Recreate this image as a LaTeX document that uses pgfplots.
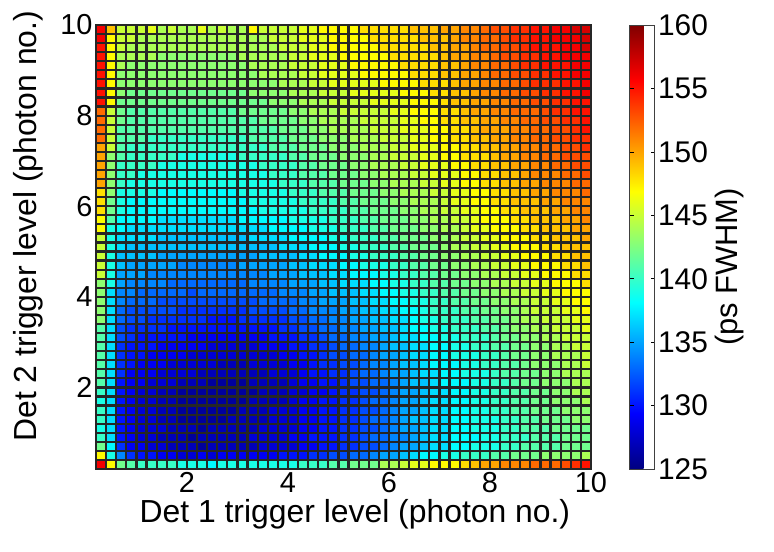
\documentclass[border=0pt]{standalone}
\usepackage{fontspec}
\setmainfont{Liberation Sans}
\usepackage{pgfplots}
\usepackage{pgfplotstable}
\pgfplotsset{compat=1.18}
\pgfdeclareplotmark{cell}{\pgfpathrectangle{\pgfpoint{-5.051bp}{-4.5305bp}}{\pgfpoint{10.102bp}{9.061bp}}\pgfusepathqfillstroke}
% rows: y = 0.3, 0.5, ..., 9.9 (bottom to top); columns: x = 0.3, 0.5, ..., 9.9
\pgfplotstableread[header=false]{
156 147 142  141 140 140 140 140  139 139 139 138 139  139 139 139 139 139  139 139 140 140 140  141 141 142 142 142  144 144 145 146 146  147 147 147 148 149  150 150 151 151 151  152 152 152 153 154  155
147 139 134  131 130 130 129 129  128 128 129 128 129  129 129 129 129 129  130 130 130 131 131  132 132 133 133 134  135 135 136 137 138  138 139 139 140 140  140 141 141 142 142  142 143 143 143 143  144
142 138 131  129 129 128 128 127  127 127 126 127 127  127 127 127 128 128  128 128 129 129 130  130 131 131 132 132  133 134 135 135 136  137 137 138 138 139  139 139 140 140 141  141 141 141 142 142  142
140 137 130  129 128 128 127 127  127 126 127 127 127  127 127 128 128 128  128 129 129 130 130  130 131 131 132 133  133 134 134 135 136  137 137 138 138 138  139 139 140 140 140  141 141 141 142 142  142
139 137 130  129 128 128 128 127  127 127 126 127 127  127 127 127 128 128  128 128 129 129 130  130 131 131 132 132  133 134 135 135 136  137 137 138 138 139  139 139 140 140 141  141 141 142 142 142  142
140 137 130  129 128 128 127 127  126 126 126 126 126  127 127 127 127 128  128 128 129 129 130  130 131 131 132 133  133 134 135 136 136  137 137 138 138 139  139 139 140 140 141  141 142 142 142 143  143
140 137 130  129 128 128 127 127  126 126 126 126 126  126 127 127 127 128  128 128 129 129 130  130 131 131 132 132  133 134 135 135 136  137 137 138 138 139  139 140 140 141 141  142 142 142 143 143  143
139 137 130  129 128 128 127 127  126 126 126 126 126  126 126 127 127 127  127 128 129 129 130  130 131 131 132 133  133 134 135 135 136  137 137 138 138 139  139 140 140 141 141  142 142 143 143 143  144
140 137 130  129 128 128 127 127  126 126 126 126 126  126 126 126 127 127  127 128 128 129 129  130 131 131 132 132  133 134 135 135 136  137 137 138 138 139  139 140 140 141 141  142 142 143 143 144  144
141 137 130  129 129 128 128 128  127 127 127 126 126  126 126 127 127 127  127 128 129 129 130  130 131 132 132 133  133 134 135 136 136  137 138 138 138 139  139 140 140 141 142  142 143 143 143 144  144
141 137 131  129 129 129 128 128  128 128 127 127 127  127 127 127 127 128  128 128 129 130 130  131 131 132 133 133  134 135 135 136 137  137 138 138 139 139  139 140 141 141 142  142 143 143 144 144  144
141 137 131  130 129 129 129 128  128 128 128 128 127  127 127 128 128 128  128 129 129 130 131  131 132 132 133 134  134 135 136 136 137  138 138 138 139 139  140 140 141 141 142  143 143 143 144 144  145
141 137 131  130 130 129 129 129  129 128 128 128 128  128 128 128 128 128  129 129 130 130 131  132 132 133 133 134  135 135 136 137 137  138 138 139 139 139  140 140 141 142 142  143 143 144 144 144  145
141 137 131  130 130 130 129 129  129 129 129 128 128  128 128 128 129 129  129 130 130 131 131  132 133 133 134 134  135 136 136 137 137  138 138 139 139 140  140 141 141 142 142  143 143 144 144 145  145
141 137 132  131 130 130 130 130  130 129 129 129 129  129 129 129 129 130  130 130 131 131 132  133 133 134 134 135  135 136 137 137 138  138 139 139 140 140  140 141 142 142 143  143 144 144 145 145  145
141 137 132  131 131 131 131 130  130 130 130 130 130  130 130 130 130 130  131 131 132 132 133  133 134 134 135 135  136 136 137 138 138  139 139 140 140 140  141 141 142 143 143  144 144 145 145 145  146
143 137 133  132 132 131 131 131  131 131 131 130 130  130 131 131 131 131  131 132 132 133 133  134 134 135 135 136  136 137 137 138 139  139 140 140 140 141  141 142 142 143 144  144 145 145 145 146  146
143 137 133  132 132 132 132 132  131 131 131 131 131  131 131 132 132 132  132 133 133 134 134  134 135 135 136 136  137 137 138 138 139  140 140 140 141 141  142 142 143 143 144  145 145 145 146 146  147
143 137 134  133 133 133 132 132  132 132 132 132 132  132 132 132 133 133  133 133 134 134 135  135 135 136 136 137  137 138 138 139 139  140 140 141 141 142  142 143 143 144 144  145 145 146 146 147  147
143 137 134  134 133 133 133 133  133 132 133 133 133  133 133 133 133 133  134 134 134 135 135  136 136 136 137 137  138 138 139 139 140  140 141 141 142 142  143 143 144 144 145  145 146 146 147 147  147
143 139 135  134 134 134 134 133  133 133 133 133 133  133 133 134 134 134  134 135 135 135 136  136 137 137 137 138  138 139 139 140 140  141 141 142 142 143  143 144 144 145 145  146 146 147 147 147  148
145 139 135  135 135 134 134 134  134 134 134 134 134  134 134 134 134 135  135 135 136 136 136  137 137 138 138 138  139 139 140 140 141  141 142 142 143 143  144 144 145 145 146  146 147 147 147 148  148
145 139 136  135 135 135 135 135  134 134 134 134 134  134 135 135 135 135  135 136 136 137 137  137 138 138 139 139  139 140 140 141 141  142 142 143 143 144  144 145 145 146 146  147 147 147 148 148  149
145 139 136  136 136 136 135 135  135 135 135 135 135  135 135 135 136 136  136 136 137 137 138  138 138 139 139 140  140 140 141 141 142  142 143 143 144 144  145 145 146 146 147  147 147 148 148 149  149
145 139 137  136 136 136 136 136  136 136 136 136 136  136 136 136 136 136  137 137 137 138 138  138 139 139 140 140  140 141 141 142 142  142 143 144 144 145  145 146 146 147 147  147 148 148 149 149  149
145 139 137  137 137 137 136 136  136 136 136 136 136  136 136 137 137 137  137 138 138 138 138  139 139 140 140 140  141 141 142 142 142  143 143 144 145 145  146 146 147 147 147  148 148 149 149 149  150
147 139 138  137 137 137 137 137  137 137 137 137 137  137 137 137 137 138  138 138 138 139 139  139 140 140 140 141  141 142 142 142 143  143 144 144 145 146  146 147 147 147 148  148 149 149 149 150  150
147 141 138  138 138 138 137 137  137 137 137 137 137  137 138 138 138 138  138 139 139 139 139  140 140 140 141 141  142 142 142 143 143  144 144 145 145 146  147 147 147 148 148  149 149 149 150 150  151
148 142 139  138 138 138 138 138  138 138 138 138 138  138 138 138 139 139  139 139 139 140 140  140 140 141 141 142  142 142 143 143 144  144 145 145 146 146  147 147 148 148 149  149 149 150 150 151  151
148 142 139  138 138 138 138 138  138 138 138 138 138  138 138 139 139 139  139 139 140 140 140  140 141 141 142 142  142 143 143 144 144  144 145 146 146 147  147 148 148 149 149  149 150 150 151 151  151
148 143 139  139 139 139 138 138  138 138 138 138 138  138 139 139 139 139  139 140 140 140 141  141 141 142 142 142  143 143 144 144 144  145 145 146 146 147  147 148 148 149 149  150 150 151 151 151  152
150 143 140  139 139 139 139 139  139 139 139 139 139  139 139 139 139 139  140 140 140 141 141  141 142 142 142 143  143 144 144 144 145  145 146 146 147 147  148 148 149 149 150  150 151 151 151 152  152
150 143 140  140 139 139 139 139  139 139 139 139 139  139 139 139 139 140  140 140 141 141 141  142 142 142 143 143  144 144 144 145 145  146 146 146 147 147  148 148 149 149 150  151 151 151 152 152  153
150 143 140  140 140 140 139 139  139 139 139 139 139  139 139 139 140 140  140 140 141 141 142  142 142 143 143 144  144 144 145 145 146  146 146 147 147 148  148 149 149 150 150  151 151 152 152 153  153
150 143 141  140 140 140 140 140  139 139 139 139 139  139 140 140 140 140  140 141 141 142 142  142 143 143 143 144  144 145 145 145 146  146 147 147 148 148  148 149 150 150 151  151 152 152 153 153  153
150 145 141  140 140 140 140 140  140 140 140 140 140  140 140 140 140 141  141 141 142 142 142  143 143 143 144 144  144 145 145 146 146  146 147 147 148 148  149 149 150 150 151  151 152 152 153 153  154
152 145 141  141 141 140 140 140  140 140 140 140 140  140 140 141 141 141  141 142 142 142 143  143 143 144 144 144  145 145 145 146 146  147 147 148 148 149  149 150 150 151 151  152 152 153 153 154  154
152 145 141  141 141 141 141 141  141 141 141 141 141  141 141 141 141 141  142 142 142 143 143  144 144 144 144 145  145 145 146 146 146  147 147 148 148 149  150 150 150 151 151  152 152 153 153 154  155
152 145 142  141 141 141 141 141  141 141 141 141 141  141 141 141 142 142  142 142 143 143 144  144 144 144 145 145  145 145 146 146 147  147 148 148 149 149  150 150 151 151 152  152 153 153 154 154  155
152 145 142  141 141 141 141 141  141 141 141 141 141  141 142 142 142 142  142 143 143 144 144  144 145 145 145 145  145 146 146 147 147  147 148 148 149 150  150 151 151 152 152  152 153 154 154 155  155
155 147 142  142 142 142 142 142  142 142 142 142 142  142 142 142 142 143  143 143 144 144 144  145 145 145 145 146  146 146 146 147 147  147 148 149 149 150  150 151 151 152 152  153 153 154 154 155  155
155 147 143  142 142 142 142 142  142 142 142 142 142  142 142 143 143 143  143 144 144 144 145  145 145 146 146 146  146 146 147 147 147  148 148 149 149 150  151 151 152 152 153  153 154 154 155 155  156
155 147 143  143 143 143 143 143  143 143 143 143 143  143 143 143 143 143  144 144 144 145 145  146 146 146 146 146  147 147 147 147 148  148 148 149 150 150  151 151 152 152 153  154 154 154 155 155  156
155 147 143  143 143 143 143 143  143 143 143 143 143  143 143 143 144 144  144 144 145 145 146  146 146 146 147 147  147 147 147 148 148  148 149 149 150 150  151 152 152 153 153  154 154 155 155 156  156
155 147 144  143 143 143 143 143  143 143 143 143 143  143 143 144 144 144  144 145 145 145 146  146 146 147 147 147  147 147 148 148 148  148 149 149 150 151  151 152 152 153 154  154 155 155 155 156  156
155 147 144  144 144 144 143 143  143 143 143 143 143  143 144 144 144 144  144 145 145 146 146  146 147 147 147 147  147 148 148 148 148  148 149 150 150 151  151 152 153 153 154  154 155 155 156 156  156
155 147 145  144 144 144 144 144  144 144 144 144 144  144 144 144 144 144  145 145 145 146 146  147 147 147 147 147  148 148 148 148 148  149 149 150 150 151  152 152 153 153 154  155 155 155 156 156  157
156 147 145  145 144 144 144 144  144 144 144 144 144  144 144 144 144 145  145 145 146 146 146  147 147 147 147 148  148 148 148 148 149  149 149 150 151 151  152 152 153 154 154  155 155 156 156 156  157
156 149 145  145 145 146 144 145  144 144 146 144 145  144 144 147 145 145  145 145 146 146 147  147 147 147 148 148  148 148 148 149 149  149 150 150 151 151  152 153 153 154 154  155 155 156 156 157  157
}\celldata
\begin{document}
\begin{tikzpicture}
\begin{axis}[
  name=main, at={(0,0)}, anchor=south west,
  scale only axis, width=495bp, height=444bp,
  xmin=0.2, xmax=10, ymin=0.2, ymax=10,
  xtick={2,4,6,8,10}, ytick={2,4,6,8,10},
  tick align=inside, major tick length=5bp,
  every tick/.style={black, line width=0.5bp},
  axis line style={line width=0.6bp, black!75},
  axis on top,
  /pgf/number format/assume math mode=true,
  tick label style={font=\fontsize{29}{31}\selectfont},
  xlabel={Det 1 trigger level (photon no.)},
  ylabel={Det 2 trigger level (photon no.)},
  label style={font=\fontsize{32}{34}\selectfont},
  xlabel style={at={(ticklabel cs:0.523)}},
  ylabel style={at={(ticklabel cs:0.547,10bp)}},
  colormap/jet,
  point meta min=125, point meta max=160,
  colorbar,
  colorbar style={
    at={(parent axis.north east)}, anchor=north west, xshift=30bp,
    width=25bp,
    ytick={125,130,...,160},
    ytick pos=both, yticklabel pos=right,
    tick align=inside, major tick length=4bp,
    axis on top,
    every tick/.style={black, line width=0.6bp},
    axis line style={line width=0.6bp, black!75},
    /pgf/number format/assume math mode=true,
    yticklabel style={font=\fontsize{30}{32}\selectfont, /pgf/number format/assume math mode=true},
    ylabel={(ps FWHM)},
    ylabel style={font=\fontsize{31}{33}\selectfont, at={(ticklabel cs:0.455)}},
  },
]
\pgfplotsinvokeforeach{0,...,48}{
  \addplot[scatter, only marks, mark=cell, line width=2.2bp, point meta=explicit,
    scatter/use mapped color={draw=black!85, fill=mapped color}]
    table[x expr={0.3+0.2*#1}, y expr={0.3+0.2*\coordindex}, meta index=#1] {\celldata};
}
\end{axis}
\pgfresetboundingbox
\path[use as bounding box] ([shift={(-96bp,-83bp)}]main.south west) rectangle ++(774bp,552bp);
\end{tikzpicture}
\end{document}
